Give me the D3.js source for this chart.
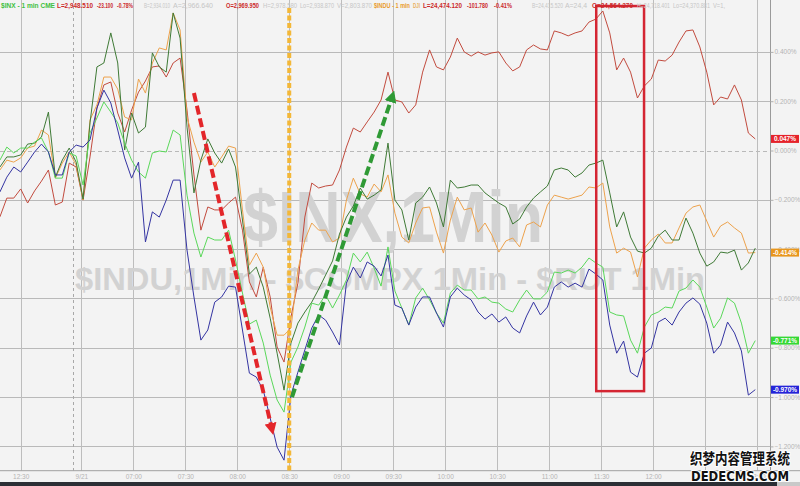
<!DOCTYPE html>
<html><head><meta charset="utf-8">
<script src="https://cdn.jsdelivr.net/npm/d3@7"></script>
<style>html,body{margin:0;padding:0;background:#f3f3f3;overflow:hidden}svg{display:block;font-family:"Liberation Sans",Arial,sans-serif}</style>
</head><body><svg id="chart" width="800" height="486"></svg>
<script>
// ---- DATA ----
// minutes from 12:30 of the previous session (day break compressed)
const times = [-12,-8,-4,0,4,8,12,16,20,24,28,32,36,40,44,48,52,56,60,64,68,72,76,80,84,88,92,96,100,104,108,112,116,120,124,128,132,136,140,144,148,152,156,160,164,168,172,176,180,184,188,192,196,200,204,208,212,216,220,224,228,232,236,240,244,248,252,256,260,264,268,272,276,280,284,288,292,296,300,304,308,312,316,320,324,328,332,336,340,344,348,352,356,360,364,368,372,376,380,384,388,392,396,400,404,408,412,416,420,424];
const tickMinutes = [0,35,65,95,125,155,185,215,245,275,305,335,365,395,425];
const tickLabels = ["12:30","9/21","07:00","07:30","08:00","08:30","09:00","09:30","10:00","10:30","11:00","11:30","12:00","12:30","13:00"];
const dayBreakMinute = 30;
const yTicks = [0.4,0.2,0,-0.2,-0.4,-0.6,-0.8,-1.0,-1.2];

const seriesRed = [-0.269,-0.193,-0.193,-0.156,-0.213,-0.164,-0.124,-0.079,-0.221,-0.209,
-0.051,-0.067,-0.201,-0.026,0.172,0.266,0.278,0.152,0.075,0.164,
0.237,0.282,0.339,0.343,0.298,0.355,0.375,0.164,-0.099,-0.323,
-0.229,-0.241,-0.241,-0.213,-0.189,-0.323,-0.533,-0.594,-0.473,-0.594,
-0.797,-0.858,-0.675,-0.538,-0.270,-0.132,-0.152,-0.144,-0.140,-0.079,
0.014,0.091,0.075,0.116,0.156,0.205,0.318,0.205,0.197,0.152,
0.185,0.318,0.408,0.339,0.327,0.379,0.456,0.400,0.383,0.400,
0.387,0.396,0.400,0.355,0.323,0.339,0.408,0.428,0.412,0.408,
0.485,0.477,0.465,0.477,0.485,0.521,0.533,0.566,0.477,0.327,
0.375,0.318,0.213,0.262,0.290,0.367,0.363,0.387,0.440,0.485,
0.489,0.420,0.318,0.185,0.217,0.209,0.266,0.205,0.071,0.047];
const seriesOrange = [-0.079,-0.039,-0.047,-0.030,0.010,0.018,0.083,0.063,-0.112,-0.051,
-0.006,-0.059,-0.201,0.124,0.185,0.298,0.298,0.249,0.136,0.124,
0.290,0.233,0.355,0.416,0.408,0.558,0.489,0.136,0.034,-0.047,
-0.006,-0.067,-0.026,0.018,0.010,-0.241,-0.465,-0.416,-0.473,-0.635,
-0.749,-0.749,-0.720,-0.485,-0.363,-0.294,-0.323,-0.323,-0.371,-0.355,
-0.201,-0.112,-0.176,-0.189,-0.136,-0.168,-0.099,-0.254,-0.351,-0.375,
-0.294,-0.233,-0.229,-0.331,-0.416,-0.282,-0.189,-0.241,-0.233,-0.331,
-0.294,-0.343,-0.412,-0.367,-0.355,-0.391,-0.302,-0.290,-0.310,-0.221,
-0.181,-0.189,-0.197,-0.189,-0.181,-0.148,-0.152,-0.132,-0.310,-0.416,
-0.396,-0.412,-0.513,-0.396,-0.363,-0.339,-0.375,-0.375,-0.314,-0.254,
-0.229,-0.221,-0.286,-0.351,-0.306,-0.290,-0.314,-0.335,-0.416,-0.414];
const seriesDarkGreen = [-0.067,-0.026,-0.026,-0.018,0.026,0.030,0.055,0.156,-0.108,-0.039,
0.010,-0.047,-0.197,0.112,0.339,0.355,0.477,0.355,0.002,0.152,
0.071,0.095,0.396,0.339,0.318,0.558,0.456,0.095,-0.172,-0.039,
0.047,-0.010,-0.051,0.006,-0.067,-0.282,-0.501,-0.473,-0.554,-0.680,
-0.822,-0.972,-0.781,-0.700,-0.655,-0.615,-0.562,-0.505,-0.448,-0.339,
-0.270,-0.225,-0.152,-0.197,-0.181,-0.160,0.030,-0.201,-0.241,-0.363,
-0.213,-0.189,-0.148,-0.213,-0.310,-0.120,-0.152,-0.148,-0.140,-0.140,
-0.172,-0.193,-0.213,-0.229,-0.298,-0.278,-0.229,-0.193,-0.168,-0.144,
-0.079,-0.071,-0.079,-0.108,-0.091,-0.059,-0.051,-0.039,-0.172,-0.310,
-0.249,-0.351,-0.408,-0.416,-0.396,-0.347,-0.323,-0.363,-0.363,-0.274,
-0.335,-0.416,-0.469,-0.452,-0.412,-0.416,-0.404,-0.485,-0.456,-0.396];
const seriesGreen = [-0.039,0.014,-0.010,0.010,0.010,0.034,0.051,-0.006,-0.112,-0.112,
-0.010,-0.022,-0.140,0.071,0.132,0.197,0.156,0.112,0.030,-0.039,
-0.087,-0.112,-0.010,-0.002,-0.006,0.083,0.063,-0.181,-0.335,-0.432,
-0.351,-0.363,-0.363,-0.323,-0.444,-0.578,-0.704,-0.688,-0.781,-0.911,
-1.012,-1.061,-0.858,-0.797,-0.716,-0.619,-0.627,-0.586,-0.639,-0.586,
-0.525,-0.416,-0.452,-0.412,-0.477,-0.550,-0.391,-0.570,-0.639,-0.708,
-0.598,-0.558,-0.606,-0.659,-0.700,-0.578,-0.546,-0.566,-0.566,-0.602,
-0.594,-0.615,-0.619,-0.643,-0.655,-0.606,-0.566,-0.602,-0.602,-0.574,
-0.493,-0.497,-0.485,-0.497,-0.473,-0.436,-0.456,-0.473,-0.655,-0.667,
-0.671,-0.769,-0.822,-0.716,-0.667,-0.655,-0.635,-0.639,-0.570,-0.558,
-0.525,-0.554,-0.635,-0.720,-0.680,-0.598,-0.619,-0.700,-0.822,-0.771];
const seriesBlue = [-0.168,-0.108,-0.067,-0.087,-0.047,-0.006,0.026,-0.006,-0.099,-0.099,
-0.006,0.022,0.014,0.043,0.172,0.245,0.193,0.083,-0.030,-0.112,
-0.047,-0.371,-0.249,-0.270,-0.201,-0.120,-0.120,-0.404,-0.594,-0.769,
-0.728,-0.615,-0.594,-0.550,-0.554,-0.728,-0.903,-0.919,-0.972,-1.085,
-1.203,-1.256,-0.992,-0.899,-0.809,-0.720,-0.667,-0.688,-0.736,-0.789,
-0.538,-0.473,-0.517,-0.452,-0.469,-0.509,-0.424,-0.627,-0.639,-0.708,
-0.635,-0.594,-0.594,-0.659,-0.716,-0.594,-0.558,-0.586,-0.606,-0.655,
-0.684,-0.663,-0.696,-0.675,-0.720,-0.740,-0.671,-0.615,-0.667,-0.635,
-0.554,-0.533,-0.554,-0.538,-0.554,-0.481,-0.501,-0.525,-0.708,-0.822,
-0.773,-0.899,-0.919,-0.822,-0.801,-0.696,-0.680,-0.708,-0.655,-0.619,
-0.598,-0.623,-0.700,-0.822,-0.789,-0.696,-0.740,-0.813,-0.992,-0.970];

const lastLabels = ["0.047%","-0.414%","-0.771%","-0.970%"];
const headerTexts = ["$INX - 1 min CME","L=2,948.510","-23.100","-0.78%","B=2,934.010","A=2,966.640","O=2,969.950","H=2,978.580","Lo=2,938.870","V=2,803.870","$INDU - 1 min","DJI","L=24,474.120","-101.780","-0.41%","B=24,415.520","A=24,4","O=24,564.270","H=24,718.401","Lo=24,370.881","V=1,"];
const watermark1 = "$INX,1Min";
const watermark2 = "$INDU,1Min - $COMPX 1Min - $RUT 1Min";
const siteMark = ["织梦内容管理系统","DEDECMS.COM"];

// ---- DRAW ----
const svg = d3.select("#chart");
const plotW = 770, plotB = 470.7;
const x = d3.scaleLinear().domain([-11.95, 432.5]).range([0, plotW]);
const y = d3.scaleLinear().domain([-1.2987, 0.6105]).range([plotB, 0]);

svg.append("rect").attr("width",800).attr("height",486).attr("fill","#f3f3f3");

// grid
const grid = svg.append("g");
grid.selectAll("line.h").data(yTicks).join("line")
  .attr("x1",0).attr("x2",plotW).attr("y1",d=>Math.round(y(d))+0.5).attr("y2",d=>Math.round(y(d))+0.5)
  .attr("stroke","#b9b9b9").attr("stroke-width",1)
  .attr("stroke-dasharray",d=>d===0?"4,3":null);
grid.selectAll("line.v").data(tickMinutes).join("line")
  .attr("x1",d=>Math.round(x(d))+0.5).attr("x2",d=>Math.round(x(d))+0.5).attr("y1",0).attr("y2",plotB)
  .attr("stroke","#bdbdbd").attr("stroke-width",1);
grid.append("line").attr("x1",Math.round(x(dayBreakMinute))+0.5).attr("x2",Math.round(x(dayBreakMinute))+0.5)
  .attr("y1",0).attr("y2",plotB).attr("stroke","#a8a8a8").attr("stroke-dasharray","3,3");

// watermarks
svg.append("text").text(watermark1).attr("x",243).attr("y",242)
  .attr("font-size",72).attr("font-weight","bold").attr("fill","#d2d2d2")
  .attr("textLength",300).attr("lengthAdjust","spacingAndGlyphs");
svg.append("text").text(watermark2).attr("x",75).attr("y",290)
  .attr("font-size",32).attr("font-weight","bold").attr("fill","#d2d2d2")
  .attr("textLength",630).attr("lengthAdjust","spacingAndGlyphs");

// axes
const yAxis = d3.axisRight(y).tickValues(yTicks).tickSize(3).tickPadding(1)
  .tickFormat(d=>(d===0?"0.000":d3.format(".3f")(d))+"%");
const ya = svg.append("g").attr("transform",`translate(${plotW+0.5},0)`).call(yAxis);
ya.select(".domain").attr("stroke","#9a9a9a").attr("d",`M0,0V482`);
ya.selectAll(".tick line").attr("stroke","#b0b0b0");
ya.selectAll(".tick text").attr("fill","#b3b3b3").attr("font-size",6.5).attr("font-family","Liberation Sans, Arial");

const xAxis = d3.axisBottom(x).tickValues(tickMinutes).tickSize(0).tickPadding(4)
  .tickFormat((d,i)=>tickLabels[i]);
const xa = svg.append("g").attr("transform",`translate(0,${plotB})`).call(xAxis);
xa.select(".domain").attr("stroke","#a0a0a0").attr("d","M0,0H800");
xa.selectAll(".tick text").attr("fill","#b3b3b3").attr("font-size",6.5).attr("font-family","Liberation Sans, Arial");

// lines
const series = [
  {v:seriesRed, c:"#c24b3e"},
  {v:seriesOrange, c:"#eda24c"},
  {v:seriesDarkGreen, c:"#3f7a36"},
  {v:seriesGreen, c:"#5ad85a"},
  {v:seriesBlue, c:"#3434a2"}
];
const line = d3.line().x((d,i)=>x(times[i])).y(d=>y(d));
svg.append("g").selectAll("path").data(series).join("path")
  .attr("d",s=>line(s.v)).attr("fill","none").attr("stroke",s=>s.c).attr("stroke-width",1)
  .attr("stroke-linejoin","round");

// annotations (in data coordinates)
const defs = svg.append("defs");
function marker(id,color){
  defs.append("marker").attr("id",id).attr("viewBox","0 0 10 10").attr("refX",5).attr("refY",5)
    .attr("markerWidth",3).attr("markerHeight",3).attr("orient","auto")
    .append("path").attr("d","M0,0L10,5L0,10z").attr("fill",color);
}
marker("arrRed","#e3262a"); marker("arrGreen","#2f9a35");
svg.append("line").attr("x1",x(155)).attr("x2",x(155)).attr("y1",8).attr("y2",plotB)
  .attr("stroke","#f3b737").attr("stroke-width",4).attr("stroke-dasharray","5,2.5");
svg.append("line").attr("x1",x(100)).attr("y1",y(0.233)).attr("x2",x(145)).attr("y2",y(-1.13))
  .attr("stroke","#e3262a").attr("stroke-width",4).attr("stroke-dasharray","9,4").attr("marker-end","url(#arrRed)");
svg.append("line").attr("x1",x(156.6)).attr("y1",y(-1.0)).attr("x2",x(214.5)).attr("y2",y(0.22))
  .attr("stroke","#2f9a35").attr("stroke-width",4).attr("stroke-dasharray","9,4").attr("marker-end","url(#arrGreen)");
svg.append("rect").attr("x",x(332.2)).attr("y",y(0.586)).attr("width",x(359.8)-x(332.2)).attr("height",y(-0.976)-y(0.586))
  .attr("fill","none").attr("stroke","#d42532").attr("stroke-width",2.5);

// header
const hdrX = [1,57,97,117,144,173,226,263,300,337,374,413,423,467,494,532,565,592,637,673,713];
const hdrW = [54,36,16,16,26,40,33,34,34,35,36,7,39,21,18,31,22,41,33,37,12];
const hdrC = ["#40c040","#cc2a2a","#cc2a2a","#cc2a2a","#c6c6c6","#c6c6c6","#cc2a2a","#c6c6c6","#c6c6c6","#c6c6c6","#e99b2c","#e9b060","#cc2a2a","#cc2a2a","#cc2a2a","#c6c6c6","#c6c6c6","#cc2a2a","#c6c6c6","#c6c6c6","#c6c6c6"];
svg.append("g").selectAll("text").data(headerTexts).join("text")
  .text(d=>d).attr("x",(d,i)=>hdrX[i]).attr("y",8).attr("font-size",6.5)
  .attr("font-weight",(d,i)=>hdrC[i]==="#c6c6c6"?"normal":"bold")
  .attr("fill",(d,i)=>hdrC[i]).attr("textLength",(d,i)=>hdrW[i]).attr("lengthAdjust","spacingAndGlyphs");

// last-value labels
const lastVals = [seriesRed, seriesOrange, seriesGreen, seriesBlue].map(a=>a[a.length-1]);
const boxC = ["#e5232b","#e8961d","#35d835","#2424d8"];
const lg = svg.append("g");
lg.selectAll("rect").data(lastVals).join("rect")
  .attr("x",771).attr("y",d=>y(d)-4).attr("width",28).attr("height",8).attr("fill",(d,i)=>boxC[i]);
lg.selectAll("text").data(lastVals).join("text")
  .text((d,i)=>lastLabels[i]).attr("x",785).attr("y",d=>y(d)+2.3).attr("text-anchor","middle")
  .attr("font-size",6.5).attr("font-weight","bold").attr("fill","#fff");

// bottom bar
svg.append("rect").attr("x",0).attr("y",482).attr("width",800).attr("height",4).attr("fill","#2c2f35");
svg.append("rect").attr("x",777).attr("y",482).attr("width",23).attr("height",4).attr("fill","#c9c9c9");

// site watermark
const sm = svg.append("g");
sm.append("text").text(siteMark[0]).attr("x",690).attr("y",464)
  .style("font-family","'Noto Sans CJK SC', sans-serif").style("font-weight","bold").style("font-size","15px")
  .attr("textLength",100).attr("lengthAdjust","spacingAndGlyphs")
  .attr("fill","#111").attr("stroke","#fff").attr("stroke-width",2).attr("paint-order","stroke");
sm.append("text").text(siteMark[1]).attr("x",691).attr("y",481)
  .style("font-family","'DejaVu Sans', sans-serif").style("font-weight","bold").style("font-size","14px")
  .attr("textLength",98).attr("lengthAdjust","spacingAndGlyphs")
  .attr("fill","#111").attr("stroke","#fff").attr("stroke-width",2).attr("paint-order","stroke");
</script></body></html>
